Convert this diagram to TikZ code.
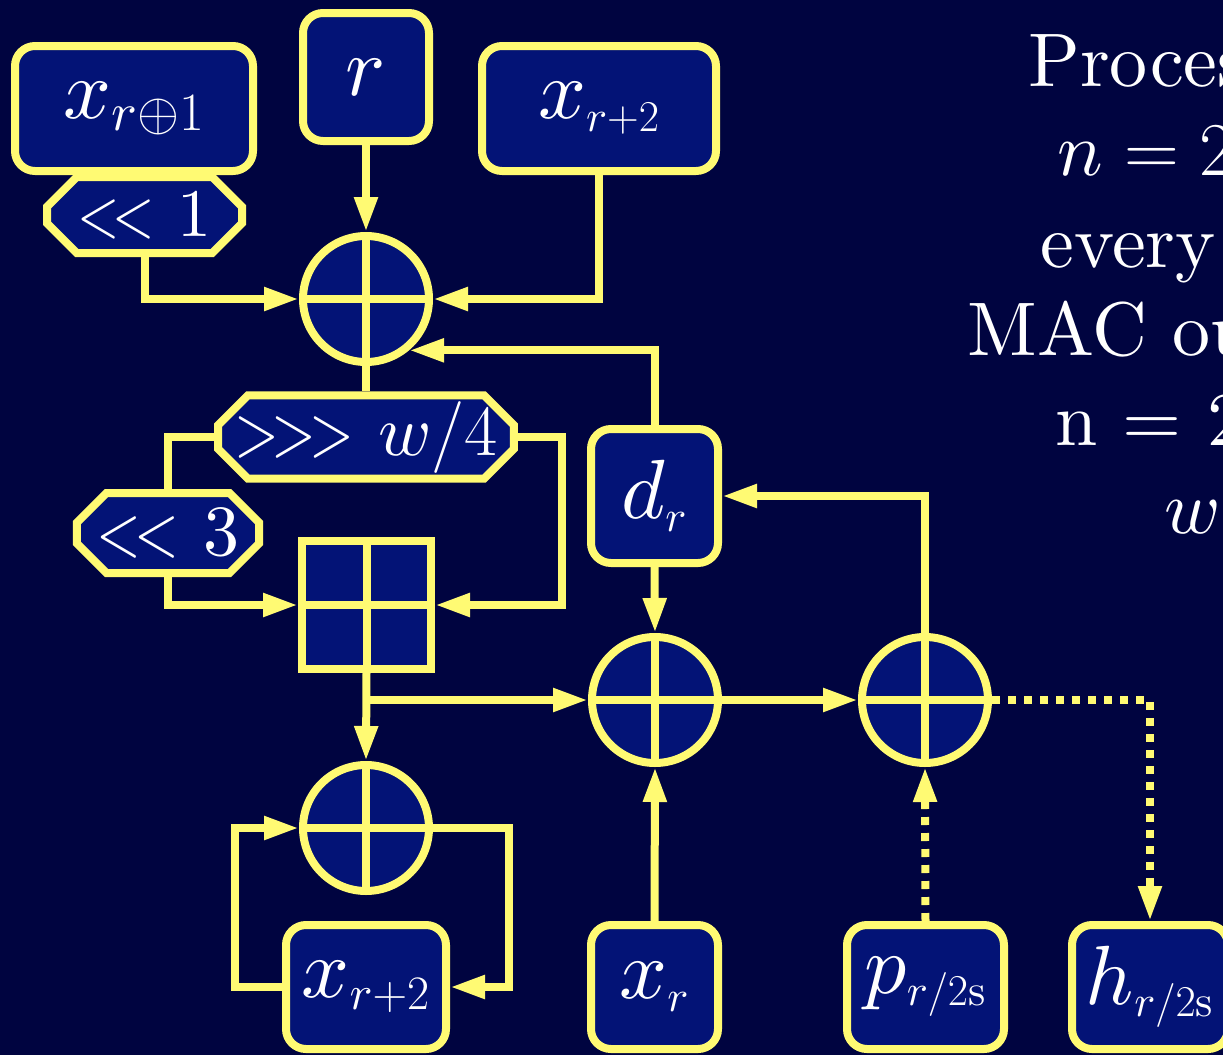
\RequirePackage{fix-cm}
\documentclass[tikz,border=0pt]{standalone}
\usepackage{graphicx}
\usepackage{fontspec}
\setmainfont{lmroman10-regular.otf}[ItalicFont=lmroman10-italic.otf]
\DeclareFontShape{OML}{cmm}{m}{it}{<->cmmi10}{}
\DeclareFontShape{OMS}{cmsy}{m}{n}{<->cmsy10}{}
\DeclareMathSizes{40}{42}{22}{16}
\DeclareMathSizes{41}{42}{27}{19}
\DeclareMathSizes{39}{42}{24}{17}
\usetikzlibrary{arrows.meta,shapes.misc}

\definecolor{bg}{RGB}{0,4,64}
\definecolor{bx}{RGB}{3,19,118}
\definecolor{yl}{RGB}{255,250,115}

\newcommand{\lt}{\scalebox{.8}[1]{<}}
\newcommand{\gt}{\scalebox{.8}[1]{>}}
\newcommand{\twolt}{\lt\kern-.1em\lt}
\newcommand{\threegt}{\gt\kern-.1em\gt\kern-.1em\gt}

\begin{document}
\begin{tikzpicture}[x=0.5pt, y=-0.5pt,
    every node/.style={text=white, inner sep=0pt},
    box/.style={draw=yl, fill=bx, line width=4pt, rounded corners=10pt,
        font=\fontsize{40}{48}\selectfont},
    shiftbox/.style={chamfered rectangle, chamfered rectangle xsep=12pt,
        draw=yl, fill=bx, line width=4pt, font=\fontsize{36}{43}\selectfont},
    cross/.style={path picture={
        \draw[yl, line width=4pt]
            (path picture bounding box.north) -- (path picture bounding box.south)
            (path picture bounding box.west) -- (path picture bounding box.east);}},
    xorop/.style={circle, draw=yl, fill=bx, line width=4pt, minimum size=63pt, cross},
    addop/.style={rectangle, draw=yl, fill=bx, line width=4pt,
        minimum width=64.5pt, minimum height=64pt, cross},
    label text/.style={anchor=base west, font=\fontsize{38}{45}\selectfont},
    wire/.style={draw=yl, line width=4pt},
    arr/.style={wire, -{Triangle[length=17.5pt,width=11pt]}},
    dots/.style={dash pattern=on 4pt off 4pt}
]
    % Page and background
    \useasboundingbox (0,0) rectangle (1223,1055);
    \fill[bg] (0,0) rectangle (1223,1055);

    % Inputs at the top
    \node[box, minimum width=119pt, minimum height=62.5pt,
        font=\fontsize{41}{48}\selectfont] (xa) at (134,108.5) {$x_{r\oplus1}$};
    \node[box, minimum width=63pt, minimum height=64pt] (rr) at (366,77) {$r$};
    \node[box, minimum width=117pt, minimum height=62.5pt] (xb) at (599,108.5) {$x_{r+2}$};
    \node[shiftbox, minimum width=97.5pt, minimum height=38pt,
        font=\fontsize{34}{41}\selectfont] (sa) at (144.5,215) {\twolt\ 1};

    % Mixing column
    \node[xorop] (ca) at (366,299) {};
    \node[shiftbox, minimum width=144pt, minimum height=40pt,
        inner xsep=-4pt] (sb) at (366,437) {\threegt\ $w/4$};
    \node[shiftbox, minimum width=90pt, minimum height=40pt,
        inner xsep=-2pt] (sc) at (168,533) {\twolt\ 3};
    \node[addop] (sq) at (366.5,605) {};
    \node[xorop] (cd) at (366,828) {};

    % Accumulator
    \node[box, minimum width=63.5pt, minimum height=67pt] (dr) at (654.5,496) {$d_r$};
    \node[xorop] (cb) at (655,700) {};
    \node[xorop] (cc) at (925,700) {};

    % Bottom row
    \node[box, minimum width=80pt, minimum height=62pt,
        font=\fontsize{39}{48}\selectfont] (xc) at (366,987) {$x_{r+2}$};
    \node[box, minimum width=63.5pt, minimum height=62pt] (xr) at (654.5,987) {$x_r$};
    \node[box, minimum width=78.5pt, minimum height=62pt] (pp) at (925.5,987) {$p_{r/2\mathrm{s}}$};
    \node[box, minimum width=78pt, minimum height=62pt] (hh) at (1150,987) {$h_{r/2\mathrm{s}}$};

    % Notes on the right
    \node[label text] (t1) at (1028,86) {Processes};
    \node[label text] (t2) at (1057,175) {$n = 2$};
    \node[label text] (t3) at (1040,267) {every};
    \node[label text] (t4) at (967,355) {MAC output};
    \node[label text] (t5) at (1055,445) {n = 2};
    \node[label text] (t6) at (1164,533) {$w$};

    % Connectors
    \draw[arr] (rr) -- (ca);
    \draw[arr] (sa.south) |- (ca.west);
    \draw[arr] (xb.south) |- (ca.east);
    \draw[arr] (dr.north) |- (ca.-50);
    \draw[wire] (ca.south) -- (sb.north);
    \draw[wire] (sb.west) -| (sc.north);
    \draw[arr] (sc.south) |- (sq.west);
    \draw[arr] (sb.east) -- ++(44,0) |- (sq.east);
    \draw[arr] (sq.south) -- (cd.north);
    \draw[arr] (sq.south |- cb.west) -- (cb.west);
    \draw[arr] (cd.east) -- ++(76,0) |- (xc.east);
    \draw[arr] (xc.west) -- ++(-47,0) |- (cd.west);
    \draw[arr] (dr.south) -- (cb.north);
    \draw[arr] (xr.north) -- (cb.south);
    \draw[arr] (cb.east) -- (cc.west);
    \draw[arr] (cc.north) |- (dr.east);
    \draw[arr, dots] (pp.north) -- (cc.south);
    \draw[arr, dots] (cc.east) -| (hh.north);
\end{tikzpicture}
\end{document}
